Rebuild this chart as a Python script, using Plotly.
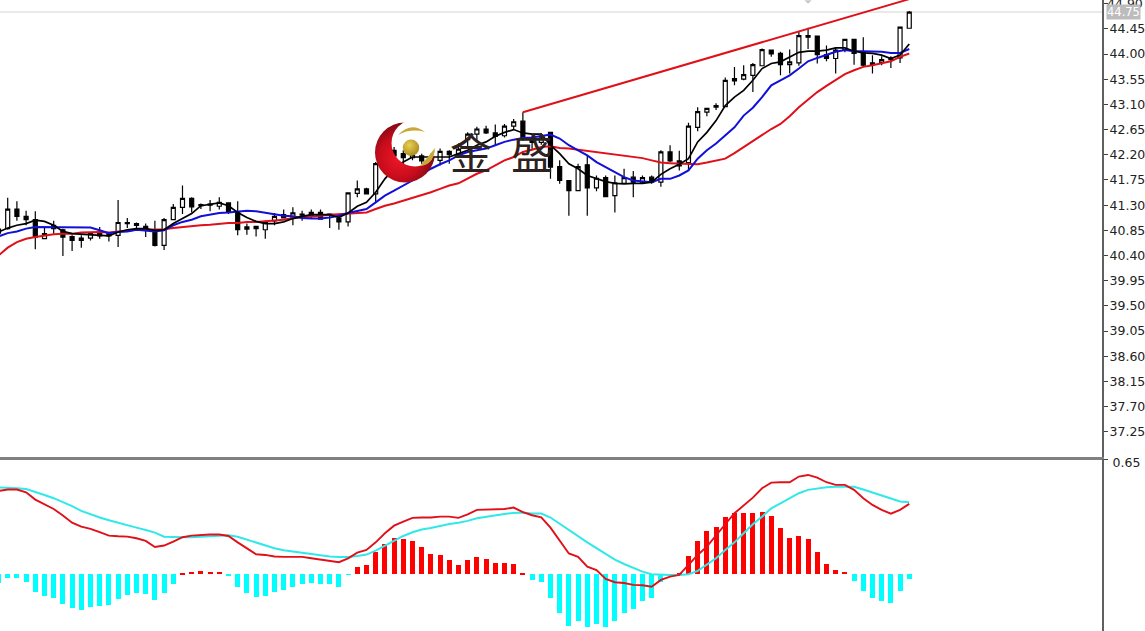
import base64
import plotly.graph_objects as go
from plotly.subplots import make_subplots

open_ = [40.80,40.88,41.23,41.10,41.04,40.70,40.94,40.86,40.74,40.67,
40.71,40.80,40.79,40.76,40.99,40.97,40.92,40.83,40.58,41.04,
41.26,41.42,41.29,41.32,41.28,41.34,41.17,40.87,40.92,40.86,
41.02,41.13,41.07,41.14,41.11,41.17,41.14,41.07,41.00,41.51,
41.59,41.50,42.04,42.28,42.22,42.15,42.18,42.09,42.10,42.26,
42.22,42.47,42.57,42.66,42.59,42.54,42.71,42.80,42.48,42.42,
42.60,41.99,41.74,41.56,42.02,41.61,41.79,41.47,41.69,41.80,
41.71,41.80,41.71,42.25,42.09,42.06,42.69,42.96,43.05,43.06,
43.52,43.55,43.62,43.79,44.07,44.01,43.81,43.84,44.33,44.32,
43.99,43.92,44.08,44.26,44.03,43.81,43.85,43.90,43.93,44.46]
high = [40.92,41.43,41.37,41.20,41.19,40.91,41.02,40.88,40.76,40.76,
40.82,40.91,40.82,41.39,41.07,40.99,40.97,41.02,41.07,41.32,
41.65,41.44,41.33,41.39,41.44,41.35,41.37,40.97,40.92,41.02,
41.16,41.22,41.26,41.20,41.22,41.22,41.14,41.11,41.53,41.74,
41.61,42.07,42.25,42.34,42.28,42.30,42.22,42.22,42.31,42.28,
42.40,42.60,42.70,42.72,42.74,42.75,42.84,42.96,42.55,42.58,
42.60,42.10,41.74,42.04,42.19,41.83,41.83,41.83,41.95,41.91,
41.83,41.83,42.28,42.37,42.27,42.77,43.05,43.03,43.12,43.58,
43.77,43.80,43.84,44.10,44.08,44.04,44.08,44.41,44.47,44.33,
44.15,44.11,44.27,44.27,44.30,43.98,43.96,43.96,44.49,44.77]
low = [40.72,40.86,41.02,40.94,40.51,40.70,40.79,40.39,40.48,40.54,
40.67,40.70,40.65,40.55,40.89,40.88,40.73,40.56,40.50,41.03,
41.14,41.17,41.23,41.19,41.22,41.14,40.76,40.77,40.74,40.70,
40.94,41.06,40.94,41.02,41.05,41.04,40.89,40.86,40.92,41.44,
41.49,41.35,41.98,42.10,42.01,42.10,42.04,42.02,42.01,42.04,
42.15,42.34,42.45,42.57,42.37,42.51,42.66,42.45,42.30,42.38,
41.77,41.68,41.11,41.55,41.11,41.55,41.44,41.17,41.68,41.44,
41.68,41.68,41.63,42.07,41.92,41.92,42.62,42.89,43.00,43.05,
43.44,43.53,43.32,43.78,43.95,43.62,43.65,43.79,44.09,43.83,
43.87,43.65,44.03,43.81,43.77,43.65,43.80,43.75,43.84,44.45]
close = [40.87,41.23,41.10,41.04,40.73,40.79,40.88,40.73,40.67,40.71,
40.79,40.75,40.75,40.99,40.97,40.94,40.88,40.58,41.04,41.26,
41.42,41.27,41.31,41.30,41.35,41.17,40.86,40.91,40.88,40.99,
41.10,41.07,41.16,41.12,41.17,41.05,41.12,41.00,41.52,41.59,
41.50,42.04,42.18,42.18,42.15,42.20,42.09,42.15,42.26,42.20,
42.30,42.57,42.66,42.59,42.53,42.71,42.79,42.48,42.42,42.50,
41.98,41.74,41.56,41.99,41.61,41.78,41.45,41.70,41.79,41.71,
41.79,41.71,42.25,42.09,42.00,42.71,42.97,43.03,43.08,43.53,
43.56,43.63,43.81,44.08,44.00,43.81,43.86,44.33,44.30,43.99,
43.92,44.07,44.26,44.01,43.80,43.84,43.90,43.93,44.48,44.75]

ma_black = [40.82,40.89,40.94,40.97,41.03,41.01,40.94,40.83,40.79,40.78,
40.76,40.75,40.75,40.82,40.86,40.88,40.88,40.85,40.86,40.97,
41.06,41.15,41.29,41.32,41.34,41.29,41.17,41.08,41.01,40.97,
40.97,41.00,41.06,41.10,41.13,41.13,41.13,41.08,41.16,41.28,
41.35,41.53,41.77,41.95,42.07,42.16,42.16,42.16,42.16,42.16,
42.22,42.28,42.37,42.43,42.53,42.60,42.65,42.59,42.57,42.57,
42.37,42.22,42.04,41.95,41.83,41.77,41.72,41.69,41.68,41.69,
41.69,41.71,41.85,41.95,42.03,42.13,42.43,42.60,42.81,43.08,
43.23,43.35,43.53,43.74,43.83,43.86,43.94,44.03,44.05,44.05,
44.07,44.11,44.11,44.05,44.02,44.01,43.98,43.92,43.98,44.18]
ma_blue = [40.74,40.80,40.83,40.88,40.91,40.91,40.91,40.91,40.90,40.90,
40.90,40.85,40.80,40.82,40.83,40.86,40.85,40.83,40.85,40.94,
41.00,41.04,41.10,41.13,41.16,41.17,41.19,41.20,41.19,41.16,
41.14,41.11,41.10,41.07,41.06,41.06,41.08,41.11,41.16,41.20,
41.23,41.35,41.47,41.56,41.65,41.74,41.85,41.95,42.03,42.10,
42.19,42.25,42.28,42.31,42.37,42.43,42.47,42.50,42.51,42.54,
42.56,42.49,42.37,42.28,42.19,42.07,41.98,41.89,41.80,41.74,
41.72,41.71,41.77,41.77,41.83,41.92,42.13,42.28,42.40,42.54,
42.69,42.90,43.04,43.23,43.44,43.53,43.62,43.74,43.87,43.93,
43.98,44.04,44.07,44.05,44.05,44.05,44.04,44.02,44.02,44.09]
ma_red = [40.40,40.54,40.64,40.70,40.73,40.76,40.78,40.79,40.79,40.81,
40.82,40.82,40.81,40.83,40.85,40.86,40.86,40.86,40.87,40.89,
40.91,40.92,40.94,40.95,40.97,40.98,40.98,41.00,41.00,41.01,
41.03,41.04,41.07,41.08,41.10,41.11,41.13,41.14,41.15,41.16,
41.17,41.23,41.29,41.33,41.38,41.43,41.47,41.53,41.59,41.65,
41.69,41.77,41.86,41.92,42.01,42.10,42.16,42.25,42.29,42.34,
42.35,42.32,42.31,42.29,42.26,42.25,42.23,42.20,42.19,42.16,
42.14,42.10,42.06,42.05,42.04,42.03,42.03,42.06,42.09,42.13,
42.23,42.34,42.44,42.56,42.66,42.75,42.89,43.05,43.19,43.32,
43.43,43.53,43.64,43.71,43.77,43.80,43.83,43.87,43.95,44.01]

macd_hist = [-.051,-.019,-.019,-.041,-.102,-.120,-.135,-.165,-.188,-.199,
-.184,-.179,-.173,-.139,-.118,-.105,-.111,-.145,-.105,-.053,
.002,.015,.019,.015,.013,-.008,-.070,-.103,-.128,-.120,
-.098,-.086,-.070,-.056,-.049,-.056,-.056,-.070,-.004,.039,
.053,.128,.173,.203,.199,.186,.152,.115,.107,.081,
.053,.081,.098,.085,.064,.064,.060,.002,-.032,-.043,
-.132,-.218,-.290,-.265,-.295,-.278,-.295,-.263,-.218,-.196,
-.150,-.135,-.045,-.004,.006,.105,.190,.244,.269,.323,
.348,.344,.344,.353,.329,.261,.207,.216,.197,.126,
.058,.023,.013,-.036,-.092,-.135,-.150,-.160,-.094,-.024]
macd_line = [.470,.478,.478,.462,.421,.395,.368,.331,.291,.269,
.256,.237,.218,.214,.212,.203,.188,.154,.162,.184,
.209,.218,.222,.224,.224,.216,.180,.147,.113,.109,
.100,.098,.098,.098,.090,.083,.077,.068,.090,.122,
.137,.180,.231,.274,.297,.318,.320,.320,.325,.325,
.318,.338,.363,.365,.368,.368,.376,.350,.333,.321,
.263,.190,.117,.098,.043,.023,-.026,-.045,-.049,-.060,
-.062,-.070,-.032,-.013,-.004,.053,.109,.156,.222,.282,
.344,.387,.432,.485,.517,.519,.519,.551,.560,.545,
.519,.504,.504,.476,.429,.391,.363,.342,.363,.397]
macd_signal = [.489,.489,.485,.481,.466,.447,.429,.408,.384,.357,
.338,.320,.305,.290,.276,.263,.250,.235,.212,.209,
.209,.209,.212,.214,.216,.220,.211,.194,.179,.162,
.147,.135,.128,.118,.113,.105,.100,.098,.098,.103,
.111,.133,.162,.190,.216,.237,.252,.261,.273,.284,
.291,.301,.316,.325,.331,.340,.346,.348,.342,.342,
.320,.284,.250,.216,.180,.147,.115,.083,.058,.038,
.015,.000,-.004,-.004,-.004,.000,.019,.053,.090,.137,
.180,.231,.282,.325,.372,.400,.429,.457,.476,.485,
.491,.493,.494,.493,.478,.461,.444,.425,.410,.406]

bars = list(range(len(close)))
trend_x = [57, 99]
trend_y = [42.96, 44.98]
price_ticks = [37.25,37.70,38.15,38.60,39.05,39.50,39.95,40.40,40.85,41.30,41.75,
               42.20,42.65,43.10,43.55,44.00,44.45,44.90]
price_labels = ["%.2f" % v for v in price_ticks]
bid_price = 44.75
price_range = [36.80, 44.965]
macd_range = [-0.32, 0.65]
bar_range = [0.163, 119.95]

W, H, AXIS_X, SEP_Y = 1145, 631, 1102, 457
TICK_FONT = dict(family="DejaVu Sans", size=12.5, color="#222222")

fig = make_subplots(rows=2, cols=1, shared_xaxes=False, vertical_spacing=0)
fig.add_trace(go.Candlestick(
    x=bars, open=open_, high=high, low=low, close=close,
    increasing=dict(line=dict(color="#000000", width=1.2), fillcolor="#ffffff"),
    decreasing=dict(line=dict(color="#000000", width=1.2), fillcolor="#000000"),
    whiskerwidth=0, showlegend=False, hoverinfo="skip"), row=1, col=1)
fig.add_trace(go.Scatter(x=bars, y=ma_red, mode="lines",
                         line=dict(color="#e01018", width=2), showlegend=False), row=1, col=1)
fig.add_trace(go.Scatter(x=bars, y=ma_blue, mode="lines",
                         line=dict(color="#1010d8", width=2), showlegend=False), row=1, col=1)
fig.add_trace(go.Scatter(x=bars, y=ma_black, mode="lines",
                         line=dict(color="#000000", width=1.7), showlegend=False), row=1, col=1)
fig.add_trace(go.Scatter(x=trend_x, y=trend_y, mode="lines",
                         line=dict(color="#e01018", width=2), showlegend=False), row=1, col=1)

fig.add_trace(go.Bar(x=bars, y=macd_hist, width=0.55,
                     marker=dict(color=["#ff0000" if v >= 0 else "#00ffff" for v in macd_hist],
                                 line=dict(width=0)),
                     showlegend=False), row=2, col=1)
fig.add_trace(go.Scatter(x=bars, y=macd_signal, mode="lines",
                         line=dict(color="#30e8e8", width=2), showlegend=False), row=2, col=1)
fig.add_trace(go.Scatter(x=bars, y=macd_line, mode="lines",
                         line=dict(color="#e01018", width=1.9), showlegend=False), row=2, col=1)

logo_svg = """<svg xmlns="http://www.w3.org/2000/svg" width="70" height="70" viewBox="0 0 70 70">
<defs>
<radialGradient id="r" cx="0.42" cy="0.58" r="0.58"><stop offset="0" stop-color="#f01828"/>
<stop offset="0.6" stop-color="#c80c1c"/><stop offset="1" stop-color="#7c0a14"/></radialGradient>
<radialGradient id="g" cx="0.4" cy="0.35" r="0.7"><stop offset="0" stop-color="#e8d050"/>
<stop offset="1" stop-color="#a88820"/></radialGradient>
<mask id="m"><rect width="70" height="70" fill="#fff"/><circle cx="45" cy="25" r="23.5" fill="#000"/></mask>
</defs>
<circle cx="35" cy="34.5" r="30" fill="url(#r)" mask="url(#m)"/>
<circle cx="41" cy="29.7" r="8.2" fill="url(#g)"/>
<path d="M28 17 Q41 3 55 14 Q41 10 28 17 Z" fill="#c8a838"/>
<path d="M50 48 Q64 47 65 30 Q58 39 50 48 Z" fill="#c8a838"/>
</svg>"""
logo_uri = "data:image/svg+xml;base64," + base64.b64encode(logo_svg.encode()).decode()

fig.update_layout(
    width=W, height=H, margin=dict(l=0, r=W - AXIS_X, t=0, b=0, autoexpand=False),
    paper_bgcolor="#ffffff", plot_bgcolor="#ffffff", showlegend=False, boxgap=0.38,
    bargap=0, barmode="overlay",
    xaxis=dict(domain=[0, 1], range=bar_range, rangeslider=dict(visible=False), showgrid=False,
               zeroline=False, showticklabels=False, ticks="", showline=True,
               linecolor="#808080", linewidth=3),
    xaxis2=dict(domain=[0, 1], range=bar_range, showgrid=False, zeroline=False,
                showticklabels=False, ticks="", showline=False),
    yaxis=dict(domain=[1 - SEP_Y / H, 1], range=price_range, side="right", tickmode="array",
               tickvals=price_ticks, ticktext=price_labels[:-1] + [""], showgrid=False, zeroline=False,
               showline=True, linecolor="#606060", linewidth=2, ticks="outside", ticklen=4,
               tickcolor="#404040", tickfont=TICK_FONT, ticklabelstandoff=-1),
    yaxis2=dict(domain=[0, 1 - (SEP_Y + 2) / H], range=macd_range, side="right", tickmode="array",
                tickvals=[0.65], ticktext=["0.65"], showgrid=False, zeroline=False,
                showline=True, linecolor="#606060", linewidth=2, ticks="outside", ticklen=4,
                tickcolor="#404040", tickfont=TICK_FONT, ticklabelshift=4, ticklabelstandoff=2),
    shapes=[dict(type="line", xref="paper", yref="y", x0=0, x1=1, y0=bid_price, y1=bid_price,
                 line=dict(color="#d4d4d4", width=1), layer="below"),
            dict(type="path", xref="x", yref="y", layer="above", line=dict(width=0),
                 fillcolor="#c8c8c8",
                 path="M 87.6 44.96 L 88.4 44.96 L 88 44.90 Z")],
    images=[dict(source=logo_uri, xref="paper", yref="paper", x=370 / AXIS_X, y=1 - 118 / H,
                 sizex=70 / AXIS_X, sizey=70 / H, xanchor="left", yanchor="top",
                 sizing="stretch", layer="above")],
    annotations=[
        dict(text=price_labels[-1], xref="paper", yref="y", x=1, y=price_ticks[-1], xanchor="left",
             yanchor="middle", xshift=4, showarrow=False, borderpad=0, font=TICK_FONT),
        dict(text="%.2f" % bid_price, xref="paper", yref="y", x=1, y=bid_price, xanchor="left",
             yanchor="middle", xshift=4, showarrow=False, bgcolor="#bcbcbc", borderpad=0,
             font=dict(family="DejaVu Sans", size=11.5, color="#ffffff")),
        dict(text="金", xref="paper", yref="paper", x=471 / AXIS_X, y=1 - 150 / H, xanchor="center",
             yanchor="middle", showarrow=False,
             font=dict(family="Noto Sans CJK SC", size=42, color="#2e2220")),
        dict(text="盛", xref="paper", yref="paper", x=532 / AXIS_X, y=1 - 150 / H, xanchor="center",
             yanchor="middle", showarrow=False,
             font=dict(family="Noto Sans CJK SC", size=42, color="#2e2220")),
    ],
)

fig.write_html("out.html", config={"displayModeBar": False},
               post_script="document.body.style.margin='0';document.body.style.overflow='hidden';")
